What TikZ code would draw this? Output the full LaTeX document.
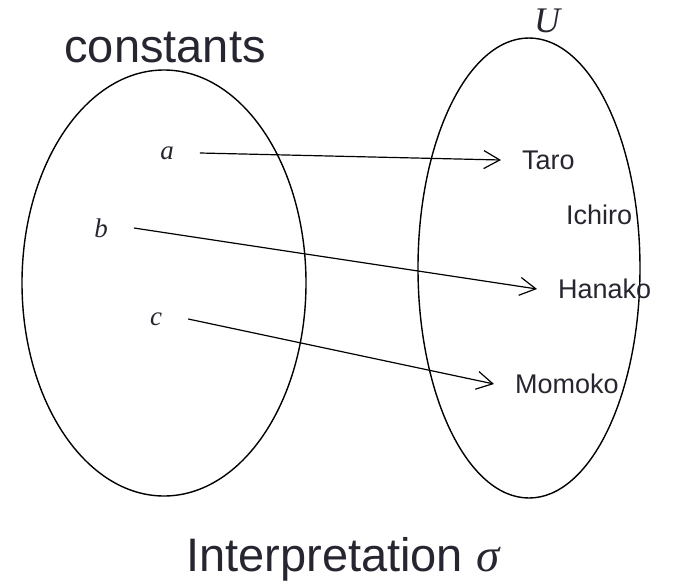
\documentclass[tikz,border=0pt]{standalone}
\usepackage{fontspec}
\setmainfont{Liberation Sans}
\newfontfamily\mathitfont{Liberation Serif}
\newcommand{\mvar}[1]{{\mathitfont\itshape #1}}
\usetikzlibrary{arrows.meta,shapes.geometric}
\definecolor{txt}{RGB}{38,38,48}
\begin{document}
\begin{tikzpicture}[x=1pt,y=-1pt,
  set/.style={draw=black,line width=1.4pt,ellipse,inner sep=0pt},
  big/.style={text=txt,font=\fontsize{47}{54}\selectfont,inner sep=0pt},
  letter/.style={text=txt,font=\fontsize{27}{32}\selectfont,inner xsep=26pt,inner ysep=0pt},
  target/.style={text=txt,font=\fontsize{27}{32}\selectfont,anchor=west,inner xsep=21pt,inner ysep=0pt},
  maps/.style={draw=black,line width=1.2pt,-{Straight Barb[length=16pt,width=18pt]}}]
\useasboundingbox (0,0) rectangle (681,581);
\node[set,minimum width=284pt,minimum height=426pt] (L) at (164,283) {};
\node[set,minimum width=222pt,minimum height=460pt] (R) at (529,268) {};
\node[big,anchor=base] (cst) at (165,62) {constants};
\node[big,anchor=base west] (interp) at (186,571) {Interpretation \mvar{σ}};
\node[text=txt,font=\fontsize{36}{42}\selectfont,anchor=base,inner sep=0pt] (U) at (547,32) {\mvar{U}};
\node[letter] (a) at (167,153) {\mvar{a}};
\node[letter] (b) at (101,228) {\mvar{b}};
\node[letter] (c) at (156,319) {\mvar{c}};
\node[target] (taro) at (501,160) {Taro};
\node[target] (ichiro) at (545,215) {Ichiro};
\node[target] (hanako) at (537,289) {Hanako};
\node[target] (momoko) at (494,384) {Momoko};
\draw[maps] (a.east) -- (taro.west);
\draw[maps] (b.east) -- (hanako.west);
\draw[maps] (c.east) -- (momoko.west);
\end{tikzpicture}
\end{document}
